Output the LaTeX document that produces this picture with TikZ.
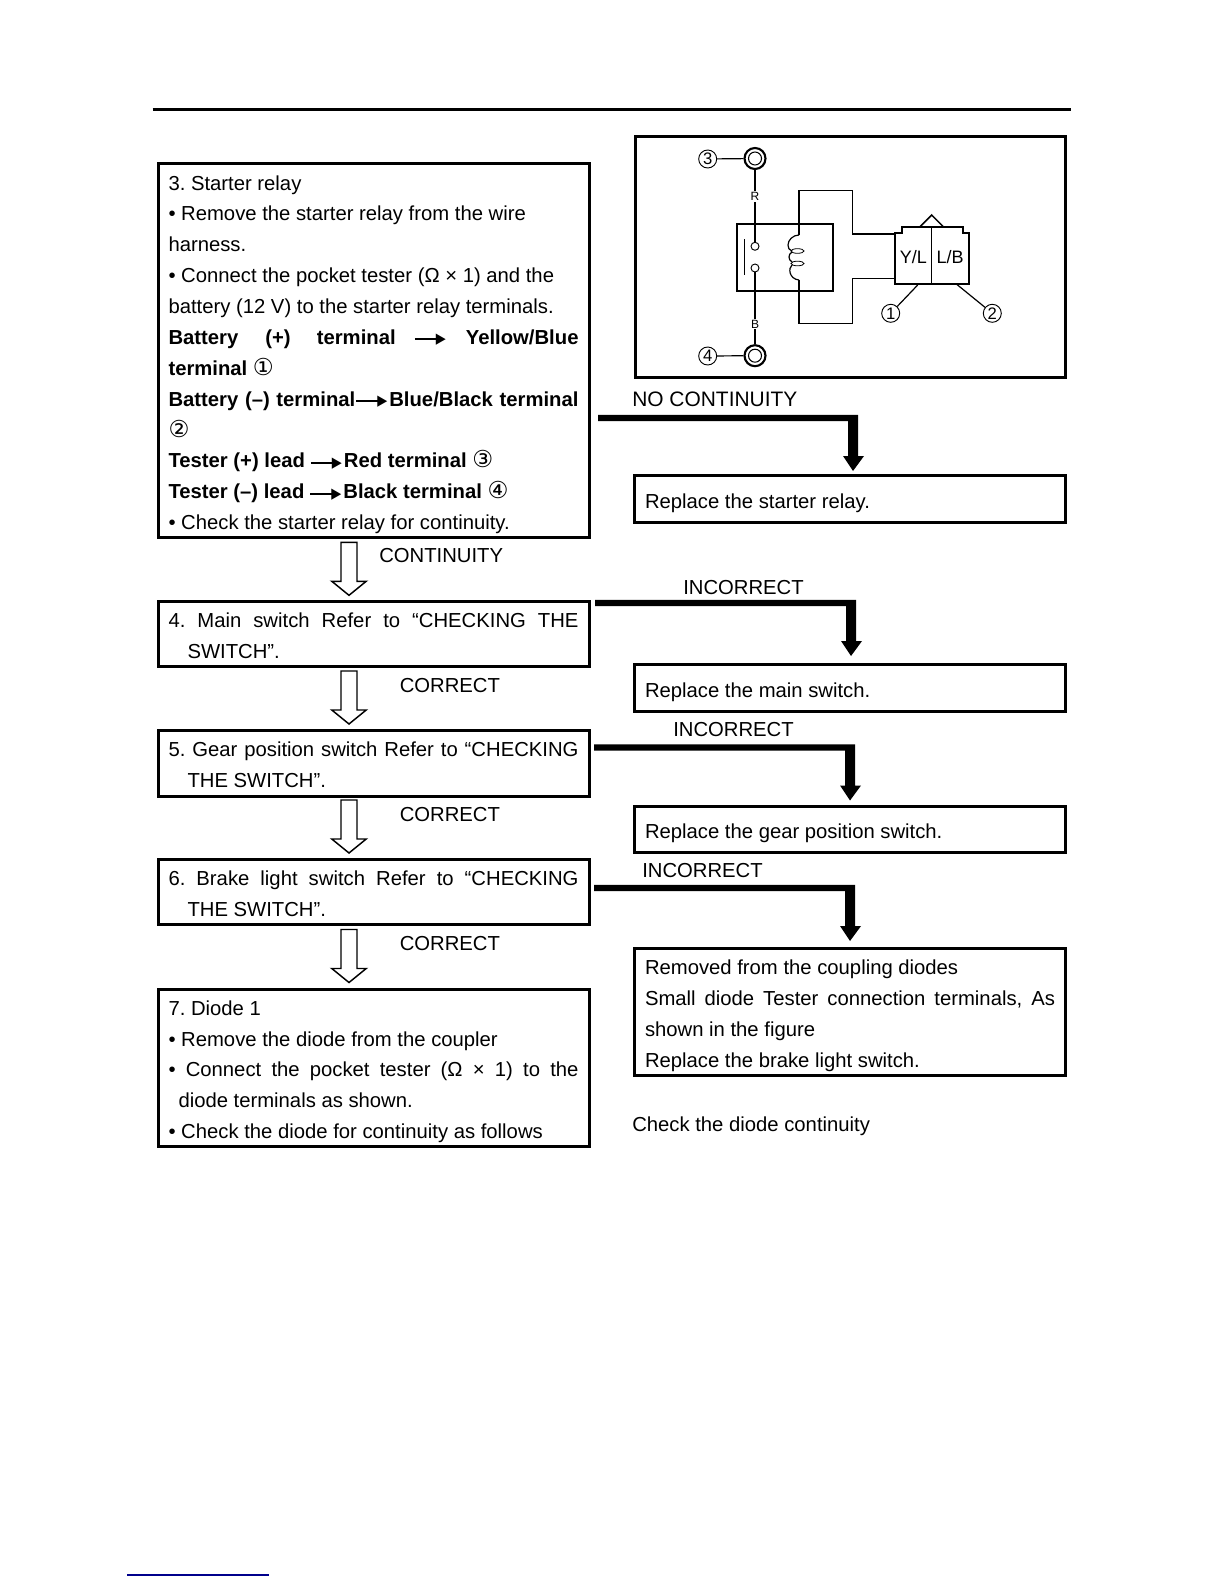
\documentclass[tikz,border=0pt]{standalone}
\usepackage{fontspec}
\setmainfont{Liberation Sans}
\newfontfamily\dvf{DejaVu Sans}
\newdimen\pxu \pxu=0.75pt
\newcommand{\cnum}[1]{{\dvf\fontsize{17.5}{23}\selectfont #1}}
\newcommand{\ar}{\mbox{\rule[4.2\pxu]{22\pxu}{2\pxu}\kern-1\pxu\raisebox{.6\pxu}{\resizebox{10\pxu}{9.5\pxu}{\dvf ▶}}}}
\newcommand{\jl}[1]{\makebox[410\pxu][s]{\spaceskip=0.278em plus 1fil\relax\xspaceskip=\spaceskip #1}}
\newcommand{\topr}[1]{\rule{0pt}{#1\pxu}}
\newcommand{\hollowarr}[1]{\draw[hollow] (#1) ++(-8,0) -- ++(16,0) -- ++(0,39) -- ++(9.2,0) -- ++(-17.2,14) -- ++(-17.2,-14) -- ++(9.2,0) -- cycle;}
\usetikzlibrary{calc}
\newcommand{\thickarr}[2]{%
  \fill (#1) ++(0,-3.2) -| ($(#2)+(5,0)$) -- ++(0,38) -- ++(6,0) -- ++(-11,15) -- ++(-10,-15) -- ++(5,0) -- ++(0,-34.8) -- ($(#1)+(0,3.2)$) -- cycle;}
\tikzset{
  txt/.style={font=\frenchspacing\fontsize{15.2}{23.15}\selectfont},
  flowbox/.style={draw=black,line width=2.25pt,anchor=north west,outer sep=0pt,inner xsep=10.5\pxu,inner ysep=0pt,
    text width=410\pxu,txt,execute at begin node={\spaceskip=0pt\xspaceskip=0pt\strut},execute at end node={\rule[-4\pxu]{0pt}{1pt}}},
  lbl/.style={anchor=base west,inner sep=0pt,txt},
  hollow/.style={draw=black,line width=1.1pt,fill=white,line join=miter},
  wire/.style={line width=0.9pt},
  ringo/.style={circle,draw,line width=1.6pt,minimum size=21\pxu,inner sep=0pt},
  ringi/.style={circle,draw,line width=0.8pt,minimum size=13\pxu,inner sep=0pt},
  contact/.style={circle,draw,line width=0.7pt,fill=white,minimum size=8\pxu,inner sep=0pt},
  callout/.style={circle,draw,line width=0.7pt,minimum size=18\pxu,inner sep=0pt,font=\fontsize{12.5}{14}\selectfont},
  wlab/.style={fill=white,inner sep=1pt,font=\fontsize{9}{10}\selectfont},
  clab/.style={inner sep=0pt,font=\fontsize{13.5}{14}\selectfont}
}
\begin{document}
\begin{tikzpicture}[x=0.75pt,y=-0.75pt]
\useasboundingbox (0,0) rectangle (1224,1584);
\coordinate (tl) at (152.5,110); \coordinate (tr) at (1070.5,110);
\draw[line width=2.25pt] (tl) -- (tr);
\coordinate (bl) at (127,1575); \coordinate (br) at (269,1575);
\draw[line width=0.9pt,draw={rgb,255:red,0;green,0;blue,140}] (bl) -- (br);

% left flow boxes
\node[flowbox,minimum height=373\pxu] (b3) at (158,164) {\topr{23}3. Starter relay\\
• Remove the starter relay from the wire\\
harness.\\
• Connect the pocket tester (Ω × 1) and the\\
battery (12 V) to the starter relay terminals.\\
\jl{\bfseries Battery\kern8\pxu{} (+)\kern7\pxu{} terminal \ar\kern1\pxu{} Yellow/Blue}\\
\textbf{terminal} \cnum{①}\\
\jl{\bfseries Battery (–) terminal\kern1\pxu\ar\kern2\pxu Blue/Black terminal}\\
\cnum{②}\\
\textbf{Tester (+) lead\kern6\pxu\ar\kern2\pxu Red terminal} \cnum{③}\\
\textbf{Tester (–) lead\kern6\pxu\ar\kern2\pxu Black terminal} \cnum{④}\\
• Check the starter relay for continuity.};
\node[flowbox,minimum height=65\pxu] (b4) at (158,601.5) {\jl{4. Main switch Refer to “CHECKING THE}\\
\hspace*{19\pxu}SWITCH”.};
\node[flowbox,minimum height=66\pxu] (b5) at (158,730) {\jl{5. Gear position switch Refer to “CHECKING}\\
\hspace*{19\pxu}THE SWITCH”.};
\node[flowbox,minimum height=65\pxu] (b6) at (158,859) {\topr{23.6}\jl{6. Brake light switch Refer to “CHECKING}\\
\hspace*{19\pxu}THE SWITCH”.};
\node[flowbox,minimum height=157\pxu] (b7) at (158,989) {\topr{23}7. Diode 1\\
• Remove the diode from the coupler\\
\jl{• Connect the pocket tester (Ω × 1) to the}\\
\hspace*{10\pxu}diode terminals as shown.\\
• Check the diode for continuity as follows};

% right boxes
\node[flowbox,minimum height=47\pxu] (r1) at (634.5,475) {\topr{29}Replace the starter relay.};
\node[flowbox,minimum height=47\pxu] (r2) at (634.5,664) {\topr{28.5}Replace the main switch.};
\node[flowbox,minimum height=46\pxu] (r3) at (634.5,806) {\topr{28.5}Replace the gear position switch.};
\node[flowbox,minimum height=127\pxu] (r4) at (634.5,948) {\topr{23}Removed from the coupling diodes\\
\jl{Small diode Tester connection terminals, As}\\
shown in the figure\\
Replace the brake light switch.};

% labels
\node[lbl,font=\fontsize{15.7}{20}\selectfont] (l1) at (632,406) {NO CONTINUITY};
\node[lbl] (l2) at (379,562.5) {CONTINUITY};
\node[lbl] (l3) at (683,594) {INCORRECT};
\node[lbl] (l4) at (399.5,692) {CORRECT};
\node[lbl] (l5) at (673,736) {INCORRECT};
\node[lbl] (l6) at (399.5,821) {CORRECT};
\node[lbl] (l7) at (642,877) {INCORRECT};
\node[lbl] (l8) at (399.5,950) {CORRECT};
\node[lbl] (l9) at (632,1131) {Check the diode continuity};

% hollow arrows
\coordinate (h1) at (349,542.3);
\coordinate (h2) at (349,671);
\coordinate (h3) at (349,800);
\coordinate (h4) at (349,929.5);
\hollowarr{h1}\hollowarr{h2}\hollowarr{h3}\hollowarr{h4}

% thick arrows
\coordinate (t1s) at (598,418); \coordinate (t1c) at (853,418);
\coordinate (t2s) at (595,603); \coordinate (t2c) at (851,603);
\coordinate (t3s) at (594,747.5); \coordinate (t3c) at (850,747.5);
\coordinate (t4s) at (594,888); \coordinate (t4c) at (850,888);
\thickarr{t1s}{t1c}\thickarr{t2s}{t2c}\thickarr{t3s}{t3c}\thickarr{t4s}{t4c}

% wiring diagram
\node[draw,line width=2.25pt,anchor=north west,outer sep=0pt,minimum width=430\pxu,minimum height=240\pxu,inner sep=0pt] (fig) at (635,137) {};
\node[ringo] (ra) at (755,158.5) {}; \node[ringi] (rai) at (755,158.5) {};
\node[ringo] (rb) at (755,355.7) {}; \node[ringi] (rbi) at (755,355.7) {};
\node[callout] (c3) at (707.7,159) {3};
\node[callout] (c4) at (707.7,356) {4};
\node[callout] (c1) at (890.7,313.3) {1};
\node[callout] (c2) at (992.3,313.3) {2};
\draw[wire] (c3) -- (ra);
\draw[wire] (c4) -- (rb);
\node[draw,line width=1.4pt,anchor=north west,outer sep=0pt,minimum width=96\pxu,minimum height=67\pxu,inner sep=0pt] (relay) at (737,223.7) {};
\node[contact] (k1) at (755,246.3) {};
\node[contact] (k2) at (755,268) {};
\draw[wire] (ra) -- (k1);
\draw[wire] (rb) -- (k2);
\node[wlab] (lr) at (755,196.7) {R};
\node[wlab] (lb) at (755,324) {B};
\coordinate (bar1) at (744.3,239.3); \coordinate (bar2) at (744.3,275);
\draw[wire] (bar1) -- (bar2);
% coil
\draw[wire] (799,235) .. controls (793,235) and (788,240) .. (788,245) .. controls (788,248) and (789,250) .. (792,251);
\draw[wire] (792,252) .. controls (788,254) and (788,260) .. (792,262);
\draw[wire] (792,265) .. controls (788,268) and (789,279) .. (799,280);
\draw[line width=0.6pt] (797.5,251) ellipse [x radius=6.5\pxu,y radius=2.3\pxu];
\draw[line width=0.6pt] (797.5,263.5) ellipse [x radius=6.5\pxu,y radius=2.3\pxu];
% wires to connector
\draw[wire] (799,235) |- (852.7,190.3) -- (852.7,234) -- (895,234);
\draw[wire] (799,280) |- (852.7,323.7) -- (852.7,278.3) -- (895,278.3);
% connector outline
\draw[line width=1.4pt,fill=white] (895,233.3) -- (901.7,233.3) -- (901.7,227.3) -- (963.3,227.3) -- (963.3,232.7) -- (969.3,232.7) -- (969.3,284) -- (895,284) -- cycle;
\draw[line width=1.1pt] (920,226.7) -- (931.7,215) -- (943.3,226.7);
\draw[line width=0.6pt] (931.7,227) -- (931.7,284);
\node[clab] (yl) at (913.3,257.3) {Y/L};
\node[clab] (lbx) at (950,257.3) {L/B};
\coordinate (p1) at (917.7,285); \coordinate (p2) at (956.7,284.3);
\draw[wire] (p1) -- (c1);
\draw[wire] (p2) -- (c2);
\end{tikzpicture}
\end{document}
